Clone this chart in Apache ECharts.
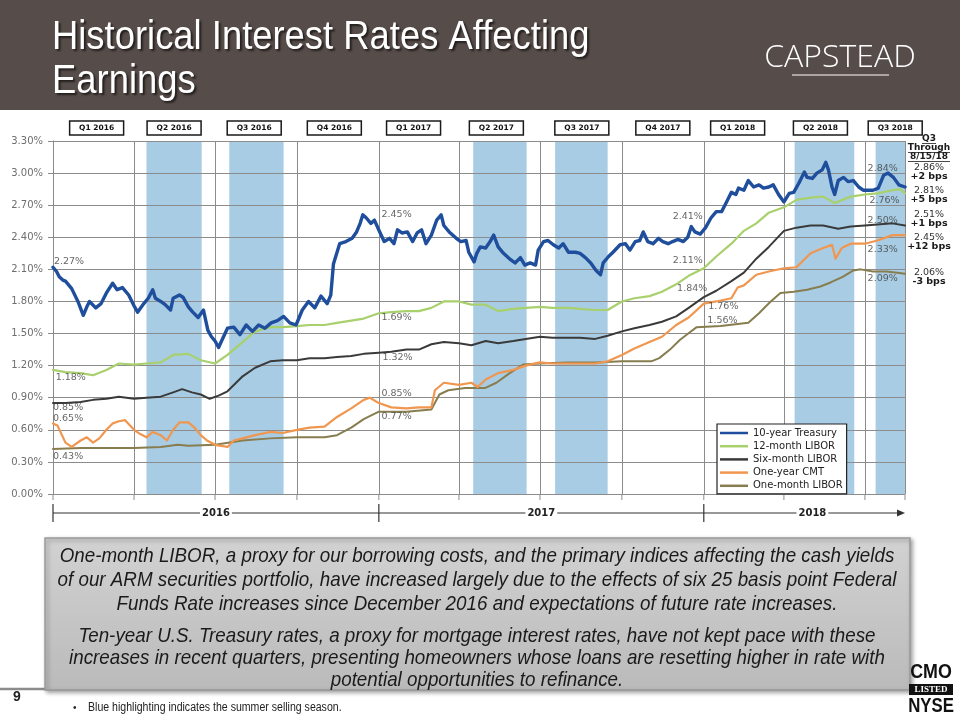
<!DOCTYPE html>
<html>
<head>
<meta charset="utf-8">
<script src="https://cdn.jsdelivr.net/npm/echarts@6.0.0/dist/echarts.min.js"></script>
<style>
html,body{margin:0;padding:0;background:#ffffff;}
#chart{width:960px;height:720px;}
</style>
</head>
<body>
<div id="chart"></div>
<script>
// ---------------- DATA ----------------
const seriesNames = ['10-year Treasury', '12-month LIBOR', 'Six-month LIBOR', 'One-year CMT', 'One-month LIBOR'];

const treasury10y = [
  ['2016-01-01',2.12],['2016-01-05',2.08],['2016-01-08',2.03],['2016-01-12',2.00],['2016-01-15',1.99],['2016-01-22',1.92],
  ['2016-01-29',1.80],['2016-02-04',1.67],['2016-02-08',1.75],['2016-02-11',1.80],['2016-02-18',1.74],['2016-02-24',1.78],
  ['2016-03-01',1.88],['2016-03-08',1.97],['2016-03-13',1.91],['2016-03-19',1.93],['2016-03-26',1.86],['2016-04-01',1.76],
  ['2016-04-05',1.70],['2016-04-12',1.78],['2016-04-17',1.83],['2016-04-22',1.91],['2016-04-25',1.83],['2016-05-01',1.80],
  ['2016-05-06',1.77],['2016-05-12',1.72],['2016-05-15',1.83],['2016-05-22',1.86],['2016-05-26',1.84],['2016-06-01',1.75],
  ['2016-06-06',1.70],['2016-06-12',1.65],['2016-06-18',1.72],['2016-06-23',1.53],['2016-06-27',1.47],['2016-07-01',1.43],
  ['2016-07-05',1.37],['2016-07-10',1.46],['2016-07-15',1.55],['2016-07-22',1.56],['2016-07-29',1.49],['2016-08-05',1.58],
  ['2016-08-12',1.52],['2016-08-19',1.58],['2016-08-26',1.55],['2016-09-02',1.60],['2016-09-09',1.62],['2016-09-16',1.66],
  ['2016-09-23',1.60],['2016-09-30',1.58],['2016-10-07',1.72],['2016-10-14',1.80],['2016-10-21',1.74],['2016-10-28',1.85],
  ['2016-11-04',1.78],['2016-11-08',1.86],['2016-11-11',2.15],['2016-11-18',2.34],['2016-11-25',2.36],['2016-12-02',2.39],
  ['2016-12-07',2.45],['2016-12-11',2.53],['2016-12-14',2.61],['2016-12-18',2.58],['2016-12-23',2.53],['2016-12-27',2.56],
  ['2017-01-02',2.45],['2017-01-07',2.36],['2017-01-13',2.39],['2017-01-18',2.34],['2017-01-22',2.47],['2017-01-27',2.44],
  ['2017-02-02',2.45],['2017-02-08',2.36],['2017-02-13',2.44],['2017-02-18',2.47],['2017-02-23',2.34],['2017-03-01',2.42],
  ['2017-03-07',2.56],['2017-03-12',2.61],['2017-03-15',2.51],['2017-03-21',2.45],['2017-03-29',2.39],['2017-04-03',2.36],
  ['2017-04-09',2.37],['2017-04-12',2.26],['2017-04-18',2.17],['2017-04-21',2.25],['2017-04-25',2.31],['2017-05-01',2.30],
  ['2017-05-06',2.36],['2017-05-10',2.42],['2017-05-15',2.31],['2017-05-21',2.25],['2017-05-29',2.19],['2017-06-03',2.16],
  ['2017-06-09',2.21],['2017-06-14',2.14],['2017-06-20',2.16],['2017-06-26',2.14],['2017-06-29',2.28],['2017-07-05',2.36],
  ['2017-07-10',2.37],['2017-07-16',2.33],['2017-07-22',2.30],['2017-07-27',2.34],['2017-08-02',2.26],['2017-08-10',2.26],
  ['2017-08-15',2.25],['2017-08-21',2.21],['2017-08-27',2.16],['2017-09-02',2.09],['2017-09-07',2.05],['2017-09-10',2.16],
  ['2017-09-16',2.22],['2017-09-21',2.26],['2017-09-29',2.33],['2017-10-05',2.34],['2017-10-10',2.28],['2017-10-16',2.36],
  ['2017-10-21',2.37],['2017-10-25',2.45],['2017-10-30',2.36],['2017-11-05',2.34],['2017-11-11',2.39],['2017-11-16',2.36],
  ['2017-11-22',2.34],['2017-11-27',2.36],['2017-12-03',2.38],['2017-12-09',2.36],['2017-12-14',2.40],['2017-12-18',2.50],
  ['2017-12-22',2.45],['2017-12-28',2.43],['2018-01-03',2.49],['2018-01-09',2.58],['2018-01-15',2.64],['2018-01-21',2.64],
  ['2018-01-26',2.72],['2018-02-01',2.82],['2018-02-06',2.80],['2018-02-09',2.86],['2018-02-15',2.84],['2018-02-20',2.93],
  ['2018-02-26',2.87],['2018-03-04',2.89],['2018-03-09',2.86],['2018-03-15',2.87],['2018-03-20',2.89],['2018-03-26',2.80],
  ['2018-04-01',2.73],['2018-04-07',2.81],['2018-04-12',2.82],['2018-04-18',2.91],['2018-04-24',3.01],['2018-04-27',2.96],
  ['2018-05-03',2.95],['2018-05-08',3.00],['2018-05-14',3.03],['2018-05-18',3.10],['2018-05-21',3.03],['2018-05-25',2.87],
  ['2018-05-28',2.80],['2018-06-01',2.93],['2018-06-07',2.96],['2018-06-12',2.92],['2018-06-18',2.93],['2018-06-24',2.87],
  ['2018-06-29',2.84],['2018-07-05',2.84],['2018-07-10',2.84],['2018-07-16',2.86],['2018-07-22',2.98],['2018-07-27',3.00],
  ['2018-08-02',2.96],['2018-08-08',2.89],['2018-08-15',2.87]
];

const libor12m = [
  ['2016-01-01',1.16],['2016-01-15',1.14],['2016-02-01',1.13],['2016-02-15',1.11],['2016-03-01',1.16],['2016-03-15',1.22],
  ['2016-04-01',1.21],['2016-04-15',1.22],['2016-05-01',1.23],['2016-05-15',1.30],['2016-06-01',1.31],['2016-06-15',1.25],
  ['2016-07-01',1.22],['2016-07-15',1.30],['2016-08-01',1.42],['2016-08-15',1.52],['2016-09-01',1.56],['2016-09-15',1.56],
  ['2016-10-01',1.57],['2016-10-15',1.58],['2016-11-01',1.58],['2016-11-15',1.60],['2016-12-01',1.62],['2016-12-15',1.64],
  ['2017-01-01',1.69],['2017-01-15',1.70],['2017-02-01',1.71],['2017-02-15',1.71],['2017-03-01',1.74],['2017-03-15',1.80],
  ['2017-04-01',1.80],['2017-04-15',1.77],['2017-05-01',1.77],['2017-05-15',1.71],['2017-06-01',1.73],['2017-06-15',1.74],
  ['2017-07-01',1.75],['2017-07-15',1.74],['2017-08-01',1.74],['2017-08-15',1.73],['2017-09-01',1.72],['2017-09-15',1.72],
  ['2017-10-01',1.80],['2017-10-15',1.83],['2017-11-01',1.85],['2017-11-15',1.89],['2017-12-01',1.96],['2017-12-15',2.04],
  ['2018-01-01',2.11],['2018-01-15',2.22],['2018-02-01',2.34],['2018-02-15',2.46],['2018-03-01',2.53],['2018-03-15',2.63],
  ['2018-04-01',2.68],['2018-04-15',2.75],['2018-05-01',2.77],['2018-05-15',2.78],['2018-05-28',2.72],['2018-06-15',2.78],
  ['2018-07-01',2.80],['2018-07-15',2.81],['2018-08-01',2.84],['2018-08-10',2.85],['2018-08-15',2.81]
];

const libor6m = [
  ['2016-01-01',0.85],['2016-01-15',0.85],['2016-02-01',0.86],['2016-02-15',0.88],['2016-03-01',0.89],['2016-03-15',0.91],
  ['2016-04-01',0.89],['2016-04-15',0.90],['2016-05-01',0.91],['2016-05-15',0.95],['2016-05-25',0.98],['2016-06-05',0.95],
  ['2016-06-15',0.93],['2016-06-25',0.89],['2016-07-05',0.92],['2016-07-15',0.96],['2016-08-01',1.10],['2016-08-15',1.18],
  ['2016-09-01',1.24],['2016-09-15',1.25],['2016-10-01',1.25],['2016-10-15',1.27],['2016-11-01',1.27],['2016-11-15',1.28],
  ['2016-12-01',1.29],['2016-12-15',1.31],['2017-01-01',1.32],['2017-01-15',1.33],['2017-02-01',1.35],['2017-02-15',1.35],
  ['2017-03-01',1.40],['2017-03-15',1.42],['2017-04-01',1.41],['2017-04-15',1.39],['2017-05-01',1.43],['2017-05-15',1.41],
  ['2017-06-01',1.43],['2017-06-15',1.45],['2017-07-01',1.47],['2017-07-15',1.46],['2017-08-01',1.46],['2017-08-15',1.46],
  ['2017-09-01',1.45],['2017-09-15',1.48],['2017-10-01',1.52],['2017-10-15',1.55],['2017-11-01',1.58],['2017-11-15',1.61],
  ['2017-12-01',1.66],['2017-12-15',1.74],['2018-01-01',1.84],['2018-01-15',1.90],['2018-02-01',1.99],['2018-02-15',2.07],
  ['2018-03-01',2.20],['2018-03-15',2.31],['2018-04-01',2.46],['2018-04-15',2.49],['2018-05-01',2.51],['2018-05-15',2.51],
  ['2018-06-01',2.48],['2018-06-15',2.50],['2018-07-01',2.51],['2018-07-15',2.52],['2018-08-01',2.53],['2018-08-15',2.51]
];

const cmt1y = [
  ['2016-01-01',0.66],['2016-01-06',0.64],['2016-01-15',0.48],['2016-01-22',0.44],['2016-02-01',0.50],['2016-02-08',0.53],
  ['2016-02-15',0.48],['2016-02-22',0.52],['2016-03-01',0.60],['2016-03-08',0.66],['2016-03-15',0.68],['2016-03-22',0.69],
  ['2016-04-01',0.60],['2016-04-08',0.56],['2016-04-15',0.53],['2016-04-22',0.58],['2016-05-01',0.55],['2016-05-08',0.50],
  ['2016-05-15',0.60],['2016-05-22',0.67],['2016-06-01',0.67],['2016-06-08',0.62],['2016-06-15',0.55],['2016-06-22',0.50],
  ['2016-07-01',0.46],['2016-07-08',0.45],['2016-07-15',0.44],['2016-07-22',0.50],['2016-08-01',0.52],['2016-08-15',0.55],
  ['2016-09-01',0.58],['2016-09-15',0.57],['2016-10-01',0.60],['2016-10-15',0.62],['2016-11-01',0.63],['2016-11-15',0.72],
  ['2016-12-01',0.80],['2016-12-15',0.88],['2016-12-22',0.90],['2017-01-01',0.85],['2017-01-15',0.81],['2017-02-01',0.80],
  ['2017-02-15',0.81],['2017-03-01',0.81],['2017-03-05',0.97],['2017-03-15',1.04],['2017-04-01',1.02],['2017-04-15',1.04],
  ['2017-04-22',1.00],['2017-05-01',1.07],['2017-05-15',1.13],['2017-06-01',1.16],['2017-06-15',1.20],['2017-07-01',1.23],
  ['2017-07-15',1.22],['2017-08-01',1.22],['2017-08-15',1.22],['2017-09-01',1.22],['2017-09-15',1.24],['2017-10-01',1.30],
  ['2017-10-15',1.36],['2017-11-01',1.42],['2017-11-15',1.47],['2017-12-01',1.58],['2017-12-15',1.65],['2018-01-01',1.78],
  ['2018-01-15',1.80],['2018-02-01',1.83],['2018-02-08',1.93],['2018-02-15',1.95],['2018-03-01',2.05],['2018-03-15',2.08],
  ['2018-04-01',2.11],['2018-04-15',2.12],['2018-05-01',2.25],['2018-05-15',2.30],['2018-05-25',2.33],['2018-05-29',2.20],
  ['2018-06-05',2.30],['2018-06-15',2.34],['2018-07-01',2.34],['2018-07-15',2.37],['2018-08-01',2.42],['2018-08-15',2.42]
];

const libor1m = [
  ['2016-01-01',0.42],['2016-02-01',0.43],['2016-03-01',0.43],['2016-04-01',0.43],['2016-05-01',0.44],['2016-05-20',0.46],
  ['2016-06-01',0.45],['2016-07-01',0.46],['2016-08-01',0.50],['2016-09-01',0.52],['2016-10-01',0.53],['2016-11-01',0.53],
  ['2016-11-15',0.55],['2016-12-01',0.62],['2016-12-15',0.70],['2017-01-01',0.77],['2017-02-01',0.77],['2017-03-01',0.79],
  ['2017-03-10',0.93],['2017-03-20',0.97],['2017-04-08',0.99],['2017-04-30',0.99],['2017-05-13',1.04],['2017-05-28',1.13],
  ['2017-06-12',1.21],['2017-07-01',1.22],['2017-08-01',1.23],['2017-09-01',1.23],['2017-10-01',1.24],['2017-11-03',1.24],
  ['2017-11-12',1.27],['2017-11-24',1.35],['2017-12-05',1.44],['2017-12-16',1.51],['2017-12-24',1.56],['2018-01-20',1.57],
  ['2018-02-20',1.60],['2018-03-04',1.69],['2018-03-16',1.79],['2018-03-28',1.88],['2018-04-12',1.89],['2018-04-27',1.91],
  ['2018-05-12',1.94],['2018-05-24',1.98],['2018-06-06',2.03],['2018-06-18',2.09],['2018-06-26',2.10],['2018-07-10',2.08],
  ['2018-07-25',2.08],['2018-08-04',2.07],['2018-08-15',2.06]
];

const quarterBoundaries = ['2016-04-01','2016-07-01','2016-10-01','2017-01-01','2017-04-01','2017-07-01','2017-10-01',
  '2018-01-01','2018-04-01','2018-07-01','2018-08-15'];
const quarterLabels = ['Q1 2016','Q2 2016','Q3 2016','Q4 2016','Q1 2017','Q2 2017','Q3 2017','Q4 2017','Q1 2018','Q2 2018','Q3 2018'];
const quarterLabelCenters = ['2016-02-19','2016-05-16','2016-08-14','2016-11-12','2017-02-09','2017-05-13','2017-08-17',
  '2017-11-16','2018-02-08','2018-05-12','2018-08-04'];
const summerShading = [['2016-04-15','2016-06-16'],['2016-07-17','2016-09-16'],['2017-04-17','2017-06-16'],
  ['2017-07-18','2017-09-15'],['2018-04-13','2018-06-19'],['2018-07-13','2018-08-15']];

// point annotations: [text, date, value]
const pointLabels = [
  ['2.27%','2016-01-02',2.17],['1.18%','2016-01-04',1.09],['0.85%','2016-01-01',0.81],['0.65%','2016-01-01',0.71],
  ['0.43%','2016-01-01',0.35],['2.45%','2017-01-04',2.61],['1.69%','2017-01-04',1.65],['1.32%','2017-01-05',1.28],
  ['0.85%','2017-01-04',0.94],['0.77%','2017-01-04',0.72],['2.41%','2017-11-27',2.59],['2.11%','2017-11-27',2.18],
  ['1.84%','2017-12-02',1.92],['1.76%','2018-01-06',1.75],['1.56%','2018-01-05',1.62],['2.84%','2018-07-04',3.04],
  ['2.76%','2018-07-06',2.74],['2.50%','2018-07-04',2.56],['2.33%','2018-07-04',2.29],['2.09%','2018-07-04',2.01]
];

const latestHeader = ['Q3', 'Through', '8/15/18'];
const latestValues = ['2.86%', '2.81%', '2.51%', '2.45%', '2.06%'];
const latestChanges = ['+2 bps', '+5 bps', '+1 bps', '+12 bps', '-3 bps'];

const yearStarts = ['2016-01-01', '2017-01-01', '2018-01-01', '2018-08-15'];
const yearLabels = ['2016', '2017', '2018'];

const titleLines = ['Historical Interest Rates Affecting', 'Earnings'];
const boxLines = [
  'One-month LIBOR, a proxy for our borrowing costs, and the primary indices affecting the cash yields',
  'of our ARM securities portfolio, have increased largely due to the effects of six 25 basis point Federal',
  'Funds Rate increases since December 2016 and expectations of future rate increases.',
  'Ten-year U.S. Treasury rates, a proxy for mortgage interest rates, have not kept pace with these',
  'increases in recent quarters, presenting homeowners whose loans are resetting higher in rate with',
  'potential opportunities to refinance.'
];
const footnote = 'Blue highlighting indicates the summer selling season.';

// ---------------- CHART ----------------
const colors = ['#1f4e9c', '#a8d06c', '#3a3a3a', '#f0964e', '#877d4f'];
const widths = [3.4, 2.2, 2.0, 2.2, 2.0];
const dataSets = [treasury10y, libor12m, libor6m, cmt1y, libor1m];
const T = s => echarts.number.parseDate(s).getTime();

const chart = echarts.init(document.getElementById('chart'), null, {renderer: 'canvas'});
const SANS = '"Liberation Sans", Arial, sans-serif';
const LABEL_FONT = '"DejaVu Sans", Verdana, sans-serif';

const lineSeries = dataSets.map((d, i) => ({
  name: seriesNames[i], type: 'line', data: d.map(p => [T(p[0]), p[1]]),
  symbol: 'none', showSymbol: false, z: 10 - i, silent: true,
  lineStyle: {color: colors[i], width: widths[i], join: 'round', cap: 'round'},
  itemStyle: {color: colors[i]}, animation: false
}));

const option = {
  animation: false,
  backgroundColor: '#ffffff',
  grid: {left: 53, right: 55, top: 141, bottom: 226, containLabel: false},
  xAxis: {
    type: 'time', min: T('2016-01-01'), max: T('2018-08-15'), z: 3,
    axisLine: {show: false}, axisTick: {show: false}, axisLabel: {show: false}, splitLine: {show: false}
  },
  yAxis: {
    type: 'value', min: 0, max: 3.3, interval: 0.3, z: 3,
    axisLine: {show: true, lineStyle: {color: '#8c8c8c', width: 1}},
    axisTick: {show: true, length: 5, lineStyle: {color: '#8c8c8c'}},
    axisLabel: {formatter: v => v.toFixed(2) + '%', color: '#6e6e6e', fontSize: 10, fontFamily: LABEL_FONT, margin: 10},
    splitLine: {show: true, lineStyle: {color: '#8c8c8c', width: 1}}
  },
  legend: {
    data: seriesNames, orient: 'vertical', left: 717, top: 424, icon: 'rect',
    itemWidth: 28, itemHeight: 2.5, itemGap: 1.2, padding: [3, 4, 2, 3],
    backgroundColor: '#ffffff', borderColor: '#222222', borderWidth: 1.2, borderRadius: 0,
    selectedMode: false, z: 20,
    textStyle: {fontFamily: LABEL_FONT, fontSize: 10, color: '#222222', lineHeight: 12}
  },
  series: [
    {
      name: 'bg', type: 'line', data: [], z: 1, silent: true,
      markArea: {silent: true, z: 1, itemStyle: {color: '#a8cce4'},
        data: summerShading.map(r => [{xAxis: T(r[0])}, {xAxis: T(r[1])}])},
      markLine: {silent: true, z: 2, symbol: 'none', label: {show: false},
        lineStyle: {color: '#8c8c8c', width: 1, type: 'solid'},
        data: quarterBoundaries.map(d => ({xAxis: T(d)}))}
    },
    ...lineSeries,
    {
      name: 'labels', type: 'scatter', z: 15, silent: true, clip: false, symbolSize: 0,
      data: pointLabels.map(p => ({value: [T(p[1]), p[2]], label: {formatter: p[0]}})),
      label: {show: true, position: 'right', distance: 0, color: '#404040', fontSize: 9.5, fontFamily: LABEL_FONT}
    }
  ]
};
chart.setOption(option);

// ---------------- DECORATIONS (positions from the chart's scales) ----------------
const px = d => chart.convertToPixel({gridIndex: 0}, [T(d), 0])[0];
const py = v => chart.convertToPixel({gridIndex: 0}, [T('2016-01-01'), v])[1];
const g = [];
// header band
g.push({type: 'rect', silent: true, z: 0, shape: {x: 0, y: 0, width: 960, height: 110}, style: {fill: '#564c49'}});
titleLines.forEach((t, i) => g.push({type: 'text', silent: true, z: 1, x: 52, y: 38 + i * 44, scaleX: 0.91,
  style: {text: t, fill: '#ffffff', font: '40px ' + SANS, verticalAlign: 'middle',
    textShadowColor: 'rgba(0,0,0,0.6)', textShadowOffsetX: 2, textShadowOffsetY: 2, textShadowBlur: 2}}));
g.push({type: 'text', silent: true, z: 1, x: 840, y: 58,
  style: {text: 'CAPSTEAD', fill: '#ffffff', font: '300 32px "Open Sans", "Liberation Sans", sans-serif', align: 'center', verticalAlign: 'middle'}});
g.push({type: 'line', silent: true, z: 1, shape: {x1: 792, y1: 75, x2: 889, y2: 75}, style: {stroke: '#ffffff', lineWidth: 1.2}});

// quarter label boxes
quarterLabels.forEach((q, i) => {
  const cx = px(quarterLabelCenters[i]);
  g.push({type: 'rect', silent: true, z: 5, shape: {x: cx - 27, y: 121, width: 54, height: 14},
    style: {fill: '#ffffff', stroke: '#1a1a1a', lineWidth: 1.5}});
  g.push({type: 'text', silent: true, z: 6, x: cx, y: 128,
    style: {text: q, fill: '#111', font: 'bold 7.5px ' + LABEL_FONT, align: 'center', verticalAlign: 'middle'}});
});

// small ticks below the plot at quarter boundaries
const y0 = py(0);
['2016-01-01'].concat(quarterBoundaries).forEach(d => {
  const x = px(d);
  g.push({type: 'line', silent: true, z: 4, shape: {x1: x, y1: y0, x2: x, y2: y0 + 6}, style: {stroke: '#8c8c8c', lineWidth: 1}});
});

// right column
const rcx = 929;
[138.5, 147.5, 156.5].forEach((y, i) => {
  g.push({type: 'text', silent: true, z: 6, x: rcx, y: y,
    style: {text: latestHeader[i], fill: '#1a1a1a', font: 'bold 9px ' + LABEL_FONT, align: 'center', verticalAlign: 'middle'}});
});
g.push({type: 'line', silent: true, z: 6, shape: {x1: 922, y1: 143.5, x2: 936, y2: 143.5}, style: {stroke: '#1a1a1a', lineWidth: 0.8}});
g.push({type: 'line', silent: true, z: 6, shape: {x1: 908, y1: 152.5, x2: 950, y2: 152.5}, style: {stroke: '#1a1a1a', lineWidth: 0.8}});
g.push({type: 'line', silent: true, z: 6, shape: {x1: 908, y1: 161.5, x2: 950, y2: 161.5}, style: {stroke: '#1a1a1a', lineWidth: 0.8}});
const valY = [168, 191, 215, 238, 273];
latestValues.forEach((v, i) => {
  g.push({type: 'text', silent: true, z: 6, x: rcx, y: valY[i],
    style: {text: v, fill: '#333', font: '9.5px ' + LABEL_FONT, align: 'center', verticalAlign: 'middle'}});
  g.push({type: 'text', silent: true, z: 6, x: rcx, y: valY[i] + 8.5,
    style: {text: latestChanges[i], fill: '#1a1a1a', font: 'bold 9.5px ' + LABEL_FONT, align: 'center', verticalAlign: 'middle'}});
});

// year timeline
const ty = 513;
const xs = yearStarts.map(px);
g.push({type: 'line', silent: true, z: 5, shape: {x1: xs[0], y1: ty, x2: xs[3] - 6, y2: ty}, style: {stroke: '#333', lineWidth: 1.2}});
g.push({type: 'polygon', silent: true, z: 5, shape: {points: [[xs[3], ty], [xs[3] - 8, ty - 3.5], [xs[3] - 8, ty + 3.5]]}, style: {fill: '#333'}});
[0, 1, 2].forEach(i => g.push({type: 'line', silent: true, z: 5, shape: {x1: xs[i], y1: ty - 9, x2: xs[i], y2: ty + 9}, style: {stroke: '#333', lineWidth: 1.2}}));
yearLabels.forEach((y, i) => {
  const cx = (xs[i] + xs[i + 1]) / 2 + (i === 2 ? 8 : 0);
  g.push({type: 'text', silent: true, z: 6, x: cx, y: ty,
    style: {text: y, fill: '#222', font: 'bold 10px ' + LABEL_FONT, align: 'center', verticalAlign: 'middle',
      backgroundColor: '#ffffff', padding: [0, 2]}});
});

// commentary box
g.push({type: 'line', silent: true, z: 4, shape: {x1: 0, y1: 689, x2: 905, y2: 689}, style: {stroke: '#8c8c8c', lineWidth: 2.5}});
g.push({type: 'rect', silent: true, z: 5, shape: {x: 45, y: 538, width: 865, height: 152},
  style: {fill: new echarts.graphic.LinearGradient(0, 0, 0, 1, [{offset: 0, color: '#d2d2d2'}, {offset: 1, color: '#bababa'}]),
    stroke: '#9a9a9a', lineWidth: 1.5, shadowColor: 'rgba(0,0,0,0.35)', shadowBlur: 4, shadowOffsetX: 2, shadowOffsetY: 2}});
const lineYs = [556, 580, 604, 636, 658, 680];
boxLines.forEach((t, i) => g.push({type: 'text', silent: true, z: 6, x: 477, y: lineYs[i], scaleX: 0.895,
  style: {text: t, fill: '#1a1a1a', font: 'italic 21px ' + SANS, align: 'center', verticalAlign: 'middle'}}));

// page number & footnote
g.push({type: 'text', silent: true, z: 6, x: 17, y: 697, style: {text: '9', fill: '#222', font: 'bold 14px ' + SANS, align: 'center', verticalAlign: 'middle'}});
g.push({type: 'text', silent: true, z: 6, x: 73, y: 708, style: {text: '\u2022', fill: '#222', font: '10px ' + SANS, verticalAlign: 'middle'}});
g.push({type: 'text', silent: true, z: 6, x: 88, y: 708, scaleX: 0.88, style: {text: footnote, fill: '#222', font: '12px ' + SANS, verticalAlign: 'middle'}});

// CMO listed NYSE mark
g.push({type: 'text', silent: true, z: 6, x: 931, y: 672, scaleX: 0.85, style: {text: 'CMO', fill: '#111', font: 'bold 21px ' + SANS, align: 'center', verticalAlign: 'middle'}});
g.push({type: 'rect', silent: true, z: 6, shape: {x: 909, y: 684, width: 44, height: 11}, style: {fill: '#111'}});
g.push({type: 'text', silent: true, z: 7, x: 931, y: 689.5, style: {text: 'LISTED', fill: '#fff', font: 'bold 9px "Liberation Serif", serif', align: 'center', verticalAlign: 'middle'}});
g.push({type: 'text', silent: true, z: 6, x: 931, y: 706, scaleX: 0.8, style: {text: 'NYSE', fill: '#111', font: 'bold 21px ' + SANS, align: 'center', verticalAlign: 'middle'}});

chart.setOption({graphic: {elements: g}});
</script>
</body>
</html>
